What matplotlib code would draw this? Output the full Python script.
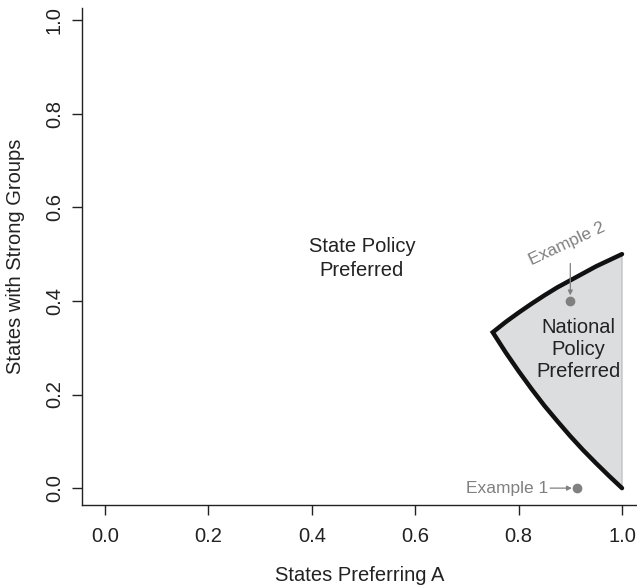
import matplotlib
matplotlib.use("Agg")
import matplotlib.pyplot as plt

plt.rcParams['font.family'] = ['Liberation Sans', 'DejaVu Sans']

# boundary of the region where national policy is preferred
upper_x = [0.75, 0.775, 0.8, 0.825, 0.85, 0.875, 0.9, 0.925, 0.95, 0.975, 1.0]
upper_y = [0.333, 0.355, 0.375, 0.394, 0.412, 0.429, 0.444, 0.459, 0.474, 0.487, 0.5]
lower_x = [0.75, 0.775, 0.8, 0.825, 0.85, 0.875, 0.9, 0.925, 0.95, 0.975, 1.0]
lower_y = [0.333, 0.290, 0.25, 0.212, 0.176, 0.143, 0.111, 0.081, 0.053, 0.026, 0.0]

# example points
ex_x = [0.913, 0.9]
ex_y = [0.0, 0.4]

ticks = [0.0, 0.2, 0.4, 0.6, 0.8, 1.0]
tick_labels = ["0.0", "0.2", "0.4", "0.6", "0.8", "1.0"]

fig = plt.figure(figsize=(6.37, 5.88), dpi=100)
ax = fig.add_axes([0.1287, 0.1412, 0.8713, 0.8452])

# shaded region
poly_x = upper_x + lower_x[::-1]
poly_y = upper_y + lower_y[::-1]
ax.fill(poly_x, poly_y, facecolor="#dcdddf", edgecolor="#b8b8b8", lw=0.8, zorder=1)
# boundary drawn as one path so the corner is sharp
edge_x = upper_x[::-1] + lower_x[1:]
edge_y = upper_y[::-1] + lower_y[1:]
ax.plot(edge_x, edge_y, color="#111111", lw=3.2, solid_capstyle="round",
        solid_joinstyle="miter", zorder=3)

ax.plot(ex_x, ex_y, "o", color="#808080", ms=6, zorder=4)

ax.text(0.497, 0.49, "State Policy\nPreferred", ha="center", va="center",
        fontsize=14.5, color="#222222", linespacing=1.35)
ax.text(0.915, 0.297, "National\nPolicy\nPreferred", ha="center", va="center",
        fontsize=14.5, color="#222222", linespacing=1.2)

ax.text(0.893, 0.522, "Example 2", ha="center", va="center", rotation=25,
        fontsize=12.5, color="#808080")
ax.annotate("", xy=(ex_x[1], ex_y[1] + 0.012), xytext=(ex_x[1], ex_y[1] + 0.08),
            arrowprops=dict(arrowstyle="-|>", color="#808080", lw=0.9,
                            mutation_scale=7, shrinkA=0, shrinkB=0))
ax.text(0.857, ex_y[0], "Example 1", ha="right", va="center",
        fontsize=12.5, color="#808080")
ax.annotate("", xy=(0.903, ex_y[0]), xytext=(0.861, ex_y[0]),
            arrowprops=dict(arrowstyle="-|>", color="#808080", lw=0.9,
                            mutation_scale=7, shrinkA=0, shrinkB=0))

ax.set_xlim(-0.0445, 1.029)
ax.set_ylim(-0.036, 1.026)
ax.spines["top"].set_visible(False)
ax.spines["right"].set_visible(False)
for s in ["left", "bottom"]:
    ax.spines[s].set_linewidth(1.0)
    ax.spines[s].set_color("#222222")

ax.set_xticks(ticks)
ax.set_xticklabels(tick_labels)
ax.set_yticks(ticks)
ax.set_yticklabels(tick_labels, rotation=90, va="center")
ax.tick_params(direction="out", length=7, width=1, labelsize=14.5,
               colors="#222222", pad=6)
ax.tick_params(axis="x", pad=9)

ax.set_xlabel("States Preferring A", fontsize=14.5, color="#222222", labelpad=14)
ax.set_ylabel("States with Strong Groups", fontsize=14.5, color="#222222", labelpad=14)

fig.savefig("out.png", dpi=100)
